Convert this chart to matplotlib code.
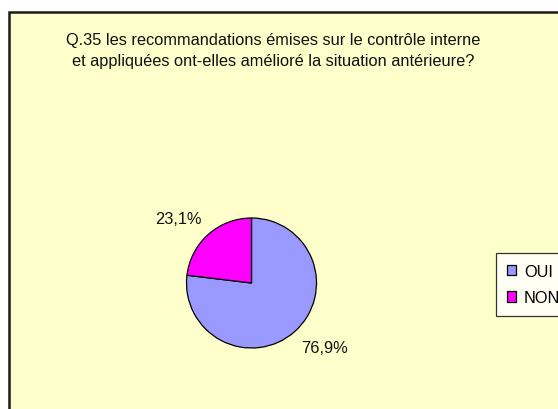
import matplotlib.pyplot as plt
import numpy as np
from matplotlib.patches import Rectangle

plt.rcParams["font.family"] = ["Liberation Sans", "DejaVu Sans"]

# chart data
labels = ["OUI", "NON"]
values = [76.9, 23.1]
colors = ["#9999FF", "#FF00FF"]
title = (
    "Q.35 les recommandations émises sur le contrôle interne\n"
    "et appliquées ont-elles amélioré la situation antérieure?"
)

W, H = 558, 410
fs = 11.8
fig = plt.figure(figsize=(W / 100, H / 100), dpi=100)
fig.patch.set_facecolor("white")

# yellow chart area, running off the right and bottom edges
fig.patches.append(
    Rectangle(
        (9 / W, -0.1),
        1.2,
        (H - 13) / H + 0.1,
        transform=fig.transFigure,
        facecolor="#FFFFCC",
        edgecolor="#1a1a1a",
        linewidth=1.8,
        zorder=-5,
    )
)

fig.text(
    273 / W,
    1 - 51 / H,
    title,
    ha="center",
    va="center",
    fontsize=fs,
    linespacing=1.45,
    color="#111111",
)

# pie axes: centre (251.5, 284) px, radius 65 px
cx, cy, r, half = 251.5, 284, 65, 100
ax = fig.add_axes([(cx - half) / W, (H - cy - half) / H, 2 * half / W, 2 * half / H])
ax.set_axis_off()
ax.patch.set_visible(False)
wedges, _ = ax.pie(
    values,
    colors=colors,
    startangle=90,
    counterclock=False,
    radius=1,
    wedgeprops=dict(edgecolor="black", linewidth=0.9),
)
lim = half / r
ax.set_xlim(-lim, lim)
ax.set_ylim(-lim, lim)
ax.set_aspect("equal")

# percentage labels outside the slices
for w, v in zip(wedges, values):
    mid = np.deg2rad((w.theta1 + w.theta2) / 2 + 7)
    ax.text(
        1.5 * np.cos(mid),
        1.5 * np.sin(mid),
        "{:.1f}%".format(v).replace(".", ","),
        ha="center",
        va="center",
        fontsize=fs,
        color="#111111",
    )

leg = fig.legend(
    wedges,
    labels,
    loc="upper left",
    bbox_to_anchor=(496 / W, 1 - 254 / H),
    frameon=True,
    fancybox=False,
    fontsize=fs,
    handlelength=0.6,
    handleheight=0.6,
    handletextpad=0.45,
    labelspacing=0.7,
    borderpad=0.65,
    borderaxespad=0,
)
leg.get_frame().set_edgecolor("black")
leg.get_frame().set_linewidth(0.9)
leg.get_frame().set_facecolor("white")

fig.savefig("out.png", dpi=100)
